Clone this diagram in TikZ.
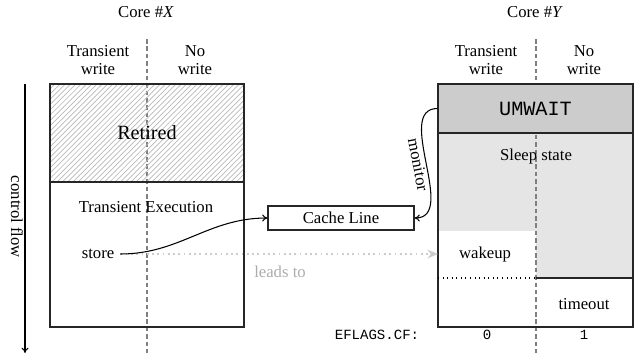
\documentclass[tikz,border=0pt]{standalone}
\usepackage{fontspec}
\setmainfont{Liberation Serif}
\setmonofont{Liberation Mono}
\usetikzlibrary{positioning, arrows.meta, patterns}

\begin{document}
\begin{tikzpicture}
    [
        x=0.02cm, y=0.02cm,
        every node/.style={font=\fontsize{9.5}{11}\selectfont},
        colhead/.style={align=center, font=\fontsize{9.5}{10.5}\selectfont},
        frame/.style={draw=black!85, line width=0.6pt},
        colsep/.style={draw=gray, line width=0.8pt, dash pattern=on 2.6pt off 1.6pt},
        retiredbox/.style={frame, pattern=north east lines, pattern color=gray!55,
            minimum width=3.88cm, minimum height=1.96cm, font=\fontsize{11.5}{13}\selectfont},
        waitbox/.style={frame, fill=gray!40, minimum width=3.9cm, minimum height=0.98cm,
            font=\ttfamily\fontsize{11.5}{13}\selectfont},
        cachebox/.style={frame, minimum width=2.92cm, minimum height=0.48cm, inner sep=0pt},
        flag/.style={font=\ttfamily\fontsize{8}{9}\selectfont},
        leads/.style={draw=gray!40, line width=1pt, dotted, -{Stealth[length=6pt, width=5pt]}}
    ]
        \useasboundingbox (0,0) rectangle (639,-355);
        % =========================================================================
        % CORE X
        % =========================================================================
        \node (corex) at (146,-12) {Core \#\textit{X}};
        \node [colhead] (xtrans) at (98,-60) {Transient\\write};
        \node [colhead] (xnowrite) at (195,-60) {No\\write};
        \draw [colsep] (147,-39) -- (147,-355);
        \node [retiredbox] (retired) at (147,-133) {Retired};
        \draw [frame] (50,-84) rectangle (244,-327);
        \node (transexec) at (146,-207) {Transient Execution};
        \node (store) at (98,-254) {store};

        % --- control flow ---
        \coordinate (flowtop) at (25,-84);
        \coordinate (flowend) at (25,-353);
        \draw [-{To[length=3pt, width=4pt]}, line width=0.6pt] (flowtop) -- (flowend);
        \node [rotate=-90] (flow) at (17,-217) {control flow};

        % =========================================================================
        % CORE Y
        % =========================================================================
        \node (corey) at (535,-12) {Core \#\textit{Y}};
        \node [colhead] (ytrans) at (486,-60) {Transient\\write};
        \node [colhead] (ynowrite) at (584,-60) {No\\write};
        \fill [gray!20] (438,-133) rectangle (536,-231);
        \fill [gray!20] (536,-133) rectangle (633,-278);
        \draw [colsep] (536,-39) -- (536,-355);
        \node [waitbox] (umwait) at (535.5,-108.5) {UMWAIT};
        \draw [frame] (438,-84) rectangle (633,-327);
        \draw [frame] (536,-278) -- (633,-278);
        \draw [black, line width=0.6pt, dotted] (438,-278) -- (536,-278);
        \node (sleep) at (536,-156) {Sleep state};
        \node (wakeup) at (485,-254) {wakeup};
        \node (timeout) at (584,-304) {timeout};
        \coordinate (wakein) at (438,-254);

        % --- EFLAGS ---
        \node [flag] (cf) at (377,-335) {EFLAGS.CF:};
        \node [flag] (cfzero) at (487,-335) {0};
        \node [flag] (cfone) at (584,-335) {1};

        % =========================================================================
        % CACHE LINE & PATHS
        % =========================================================================
        \node [cachebox] (cache) at (341,-218) {Cache Line};

        \draw [leads] (store.east) -- (wakein);
        \node [text=gray!65] (leadsto) at (280,-272) {leads to};
        \draw [-{To[length=3pt, width=4pt]}, line width=0.6pt]
            (store.east) to [out=0, in=180] (cache.west);
        \draw [-{To[length=3pt, width=4pt]}, line width=0.6pt]
            (umwait.west) to [out=180, in=0]
            node [midway, sloped, below, inner sep=1pt] {monitor} (cache.east);
\end{tikzpicture}
\end{document}
